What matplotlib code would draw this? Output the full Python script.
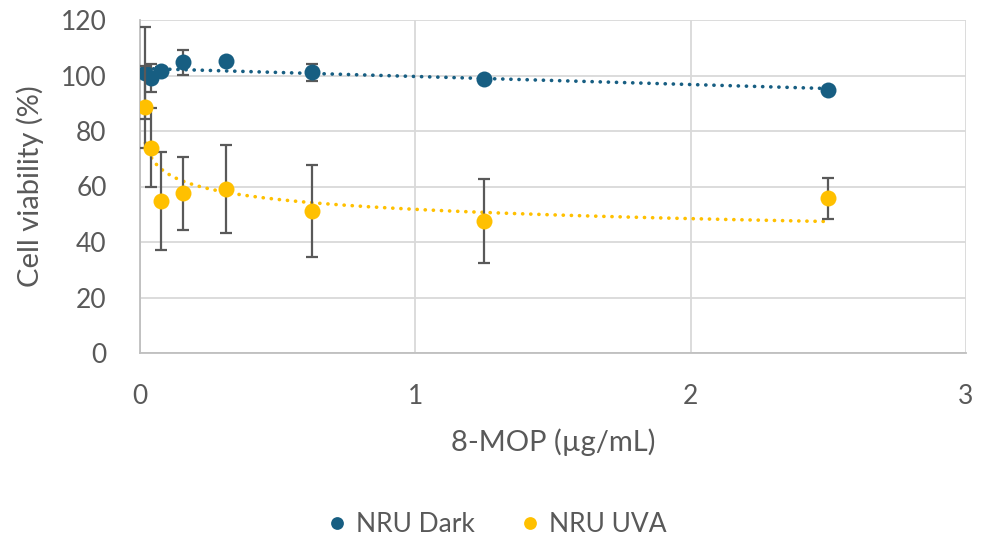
import numpy as np
import matplotlib
matplotlib.use('Agg')
import matplotlib.pyplot as plt

plt.rcParams['font.family'] = ['Lato', 'DejaVu Sans']

BLUE   = '#175E82'
YELLOW = '#FFC000'
ERRC   = '#595959'
GRID   = '#D9D9D9'
TEXTC  = '#595959'

# concentrations (ug/mL)
conc = [0.0195, 0.039, 0.078, 0.156, 0.3125, 0.625, 1.25, 2.5]

dark_mean = [100.8, 99.0, 101.7, 104.7, 105.2, 101.1, 98.7, 94.8]
dark_err  = [16.6, 5.1, 1.5, 4.5, 1.0, 3.1, 0.8, 0.8]

uva_mean = [88.5, 74.0, 54.8, 57.5, 59.1, 51.2, 47.6, 55.7]
uva_err  = [14.8, 14.2, 17.8, 13.1, 15.8, 16.5, 15.0, 7.4]

x = np.array(conc)

fig = plt.figure(figsize=(9.88, 5.39), dpi=100)
ax = fig.add_axes([140/988, 1 - 353/539, (966 - 140)/988, (353 - 20)/539])

# trendlines: linear for dark, power for UVA (as Excel does)
xs = np.linspace(x.min(), x.max(), 300)
k, b = np.polyfit(x, dark_mean, 1)
ax.plot(xs, k * xs + b, color=BLUE, lw=2.6, ls=(0, (0.05, 2.2)),
        dash_capstyle='round', zorder=2)
p, lc = np.polyfit(np.log(x), np.log(uva_mean), 1)
ax.plot(xs, np.exp(lc) * xs ** p, color=YELLOW, lw=2.6, ls=(0, (0.05, 2.2)),
        dash_capstyle='round', zorder=2)

ax.errorbar(x, dark_mean, yerr=dark_err, fmt='none', ecolor=ERRC,
            elinewidth=1.6, capsize=4.5, capthick=1.6, zorder=3)
ax.plot(x, dark_mean, 'o', color=BLUE, ms=11.5, mec='none', zorder=4,
        label='NRU Dark')
ax.errorbar(x, uva_mean, yerr=uva_err, fmt='none', ecolor=ERRC,
            elinewidth=1.6, capsize=4.5, capthick=1.6, zorder=5)
ax.plot(x, uva_mean, 'o', color=YELLOW, ms=11.5, mec='none', zorder=6,
        label='NRU UVA')

ax.set_xlim(0, 3)
ax.set_ylim(0, 120)
ax.set_xticks([0, 1, 2, 3])
ax.set_yticks(range(0, 121, 20))
ax.grid(True, color=GRID, lw=1.3)
ax.set_axisbelow(True)
for s in ['top', 'right']:
    ax.spines[s].set_visible(False)
for s in ['left', 'bottom']:
    ax.spines[s].set_color('#BFBFBF')
    ax.spines[s].set_linewidth(1.3)
ax.tick_params(length=0, labelsize=19, colors=TEXTC, pad=22)
ax.tick_params(axis='y', pad=24)

ax.set_xlabel('8-MOP (µg/mL)', fontsize=21, color=TEXTC, labelpad=14)
ax.set_ylabel('Cell viability (%)', fontsize=21, color=TEXTC, labelpad=12)

fig.legend(loc='lower center', bbox_to_anchor=(0.5, -0.04), ncol=2,
           frameon=False, fontsize=19, labelcolor=TEXTC, handletextpad=0.1,
           columnspacing=1.5, markerscale=0.8, handlelength=1.2)

fig.savefig('out.png', dpi=100, facecolor='white')
